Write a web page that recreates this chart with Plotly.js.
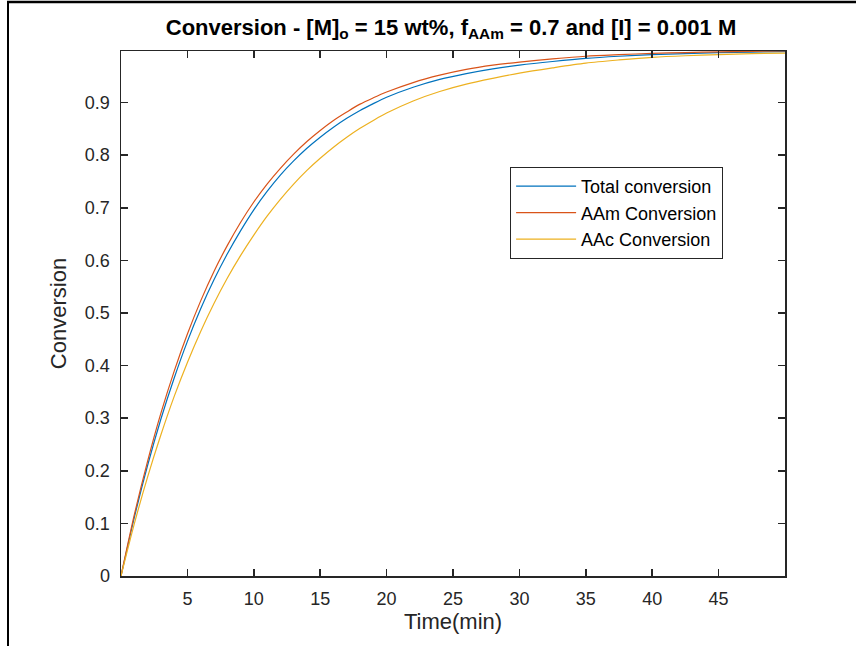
<!DOCTYPE html>
<html>
<head>
<meta charset="utf-8">
<script src="https://cdn.plot.ly/plotly-3.0.1.min.js"></script>
<style>
html,body{margin:0;padding:0;background:#fff;}
#chart{width:856px;height:646px;}
</style>
</head>
<body>
<div id="chart"></div>
<script>
var time = [0, 1, 2, 3, 4, 5, 6, 7, 8, 9, 10, 11, 12, 13, 14, 15, 16, 17, 18, 19, 20, 22, 24, 26, 28, 30, 32.5, 35, 37.5, 40, 42.5, 45, 47.5, 50];
var totalConversion = [0, 0.111, 0.210, 0.298, 0.376, 0.446, 0.508, 0.563, 0.612, 0.656, 0.696, 0.731, 0.762, 0.789, 0.813, 0.834, 0.853, 0.870, 0.885, 0.898, 0.910, 0.929, 0.944, 0.955, 0.964, 0.971, 0.978, 0.984, 0.988, 0.991, 0.993, 0.995, 0.996, 0.997];
var aamConversion = [0, 0.116, 0.218, 0.309, 0.389, 0.460, 0.523, 0.579, 0.628, 0.672, 0.711, 0.745, 0.775, 0.802, 0.826, 0.847, 0.866, 0.882, 0.897, 0.909, 0.920, 0.938, 0.952, 0.963, 0.971, 0.977, 0.983, 0.988, 0.991, 0.9935, 0.995, 0.9965, 0.9973, 0.998];
var aacConversion = [0, 0.099, 0.188, 0.268, 0.341, 0.406, 0.465, 0.518, 0.566, 0.609, 0.648, 0.684, 0.716, 0.745, 0.771, 0.794, 0.815, 0.834, 0.851, 0.866, 0.880, 0.903, 0.921, 0.935, 0.946, 0.956, 0.966, 0.975, 0.981, 0.986, 0.989, 0.991, 0.993, 0.994];
var seriesNames = ["Total conversion", "AAm Conversion", "AAc Conversion"];
var xTicks = [5, 10, 15, 20, 25, 30, 35, 40, 45];
var yTicks = [0, 0.1, 0.2, 0.3, 0.4, 0.5, 0.6, 0.7, 0.8, 0.9];
var yTickLabels = ["0", "0.1", "0.2", "0.3", "0.4", "0.5", "0.6", "0.7", "0.8", "0.9"];

var colors = ["#0072BD", "#D95319", "#EDB120"];
var seriesData = [totalConversion, aamConversion, aacConversion];
var traces = seriesData.map(function (ys, i) {
  return {
    x: time, y: ys, type: "scatter", mode: "lines", name: seriesNames[i],
    line: {color: colors[i], width: 1.2, shape: "spline", smoothing: 0.8}
  };
});

var FONT = "Liberation Sans, Arial, Helvetica, sans-serif";
var axisCommon = {
  showgrid: false, zeroline: false, showline: true, linecolor: "#262626", linewidth: 1.5,
  mirror: "ticks", ticks: "inside", ticklen: 7, tickwidth: 1.5, tickcolor: "#262626",
  tickfont: {family: FONT, size: 18, color: "#262626"}
};

var layout = {
  width: 856, height: 646,
  paper_bgcolor: "#ffffff", plot_bgcolor: "#ffffff",
  margin: {l: 121, r: 71, t: 51, b: 70, pad: 0},
  showlegend: true,
  title: {
    text: "<b>Conversion - [M]<sub>o</sub> = 15 wt%, f<sub>AAm</sub> = 0.7 and [I] = 0.001 M</b>",
    font: {family: FONT, size: 22, color: "#000000"},
    x: 0.497, xanchor: "center", xref: "paper",
    y: 1 - 27 / 646, yanchor: "middle", yref: "container"
  },
  xaxis: Object.assign({}, axisCommon, {
    range: [0, 50], tickvals: xTicks, ticktext: xTicks.map(String),
    ticklabelstandoff: 6,
    title: {text: "Time(min)", font: {family: FONT, size: 22, color: "#262626"}, standoff: 4}
  }),
  yaxis: Object.assign({}, axisCommon, {
    range: [0, 0.998], tickvals: yTicks, ticktext: yTickLabels,
    ticklabelstandoff: 6,
    title: {text: "Conversion", font: {family: FONT, size: 22, color: "#262626"}, standoff: 12}
  }),
  legend: {
    x: 0.586, xanchor: "left", y: 0.779, yanchor: "top",
    bgcolor: "#ffffff", bordercolor: "#262626", borderwidth: 1,
    font: {family: FONT, size: 18, color: "#000000"},
    traceorder: "normal", itemwidth: 60
  },
  shapes: [
    {type: "line", xref: "paper", yref: "paper", x0: (8 - 121) / 664, x1: (8 - 121) / 664, y0: (576 - 2) / 525, y1: (576 - 700) / 525, line: {color: "#000", width: 2}},
    {type: "line", xref: "paper", yref: "paper", x0: (7 - 121) / 664, x1: (900 - 121) / 664, y0: (576 - 2) / 525, y1: (576 - 2) / 525, line: {color: "#000", width: 2.5}}
  ]
};

Plotly.newPlot("chart", traces, layout, {staticPlot: true, displayModeBar: false});
</script>
</body>
</html>
